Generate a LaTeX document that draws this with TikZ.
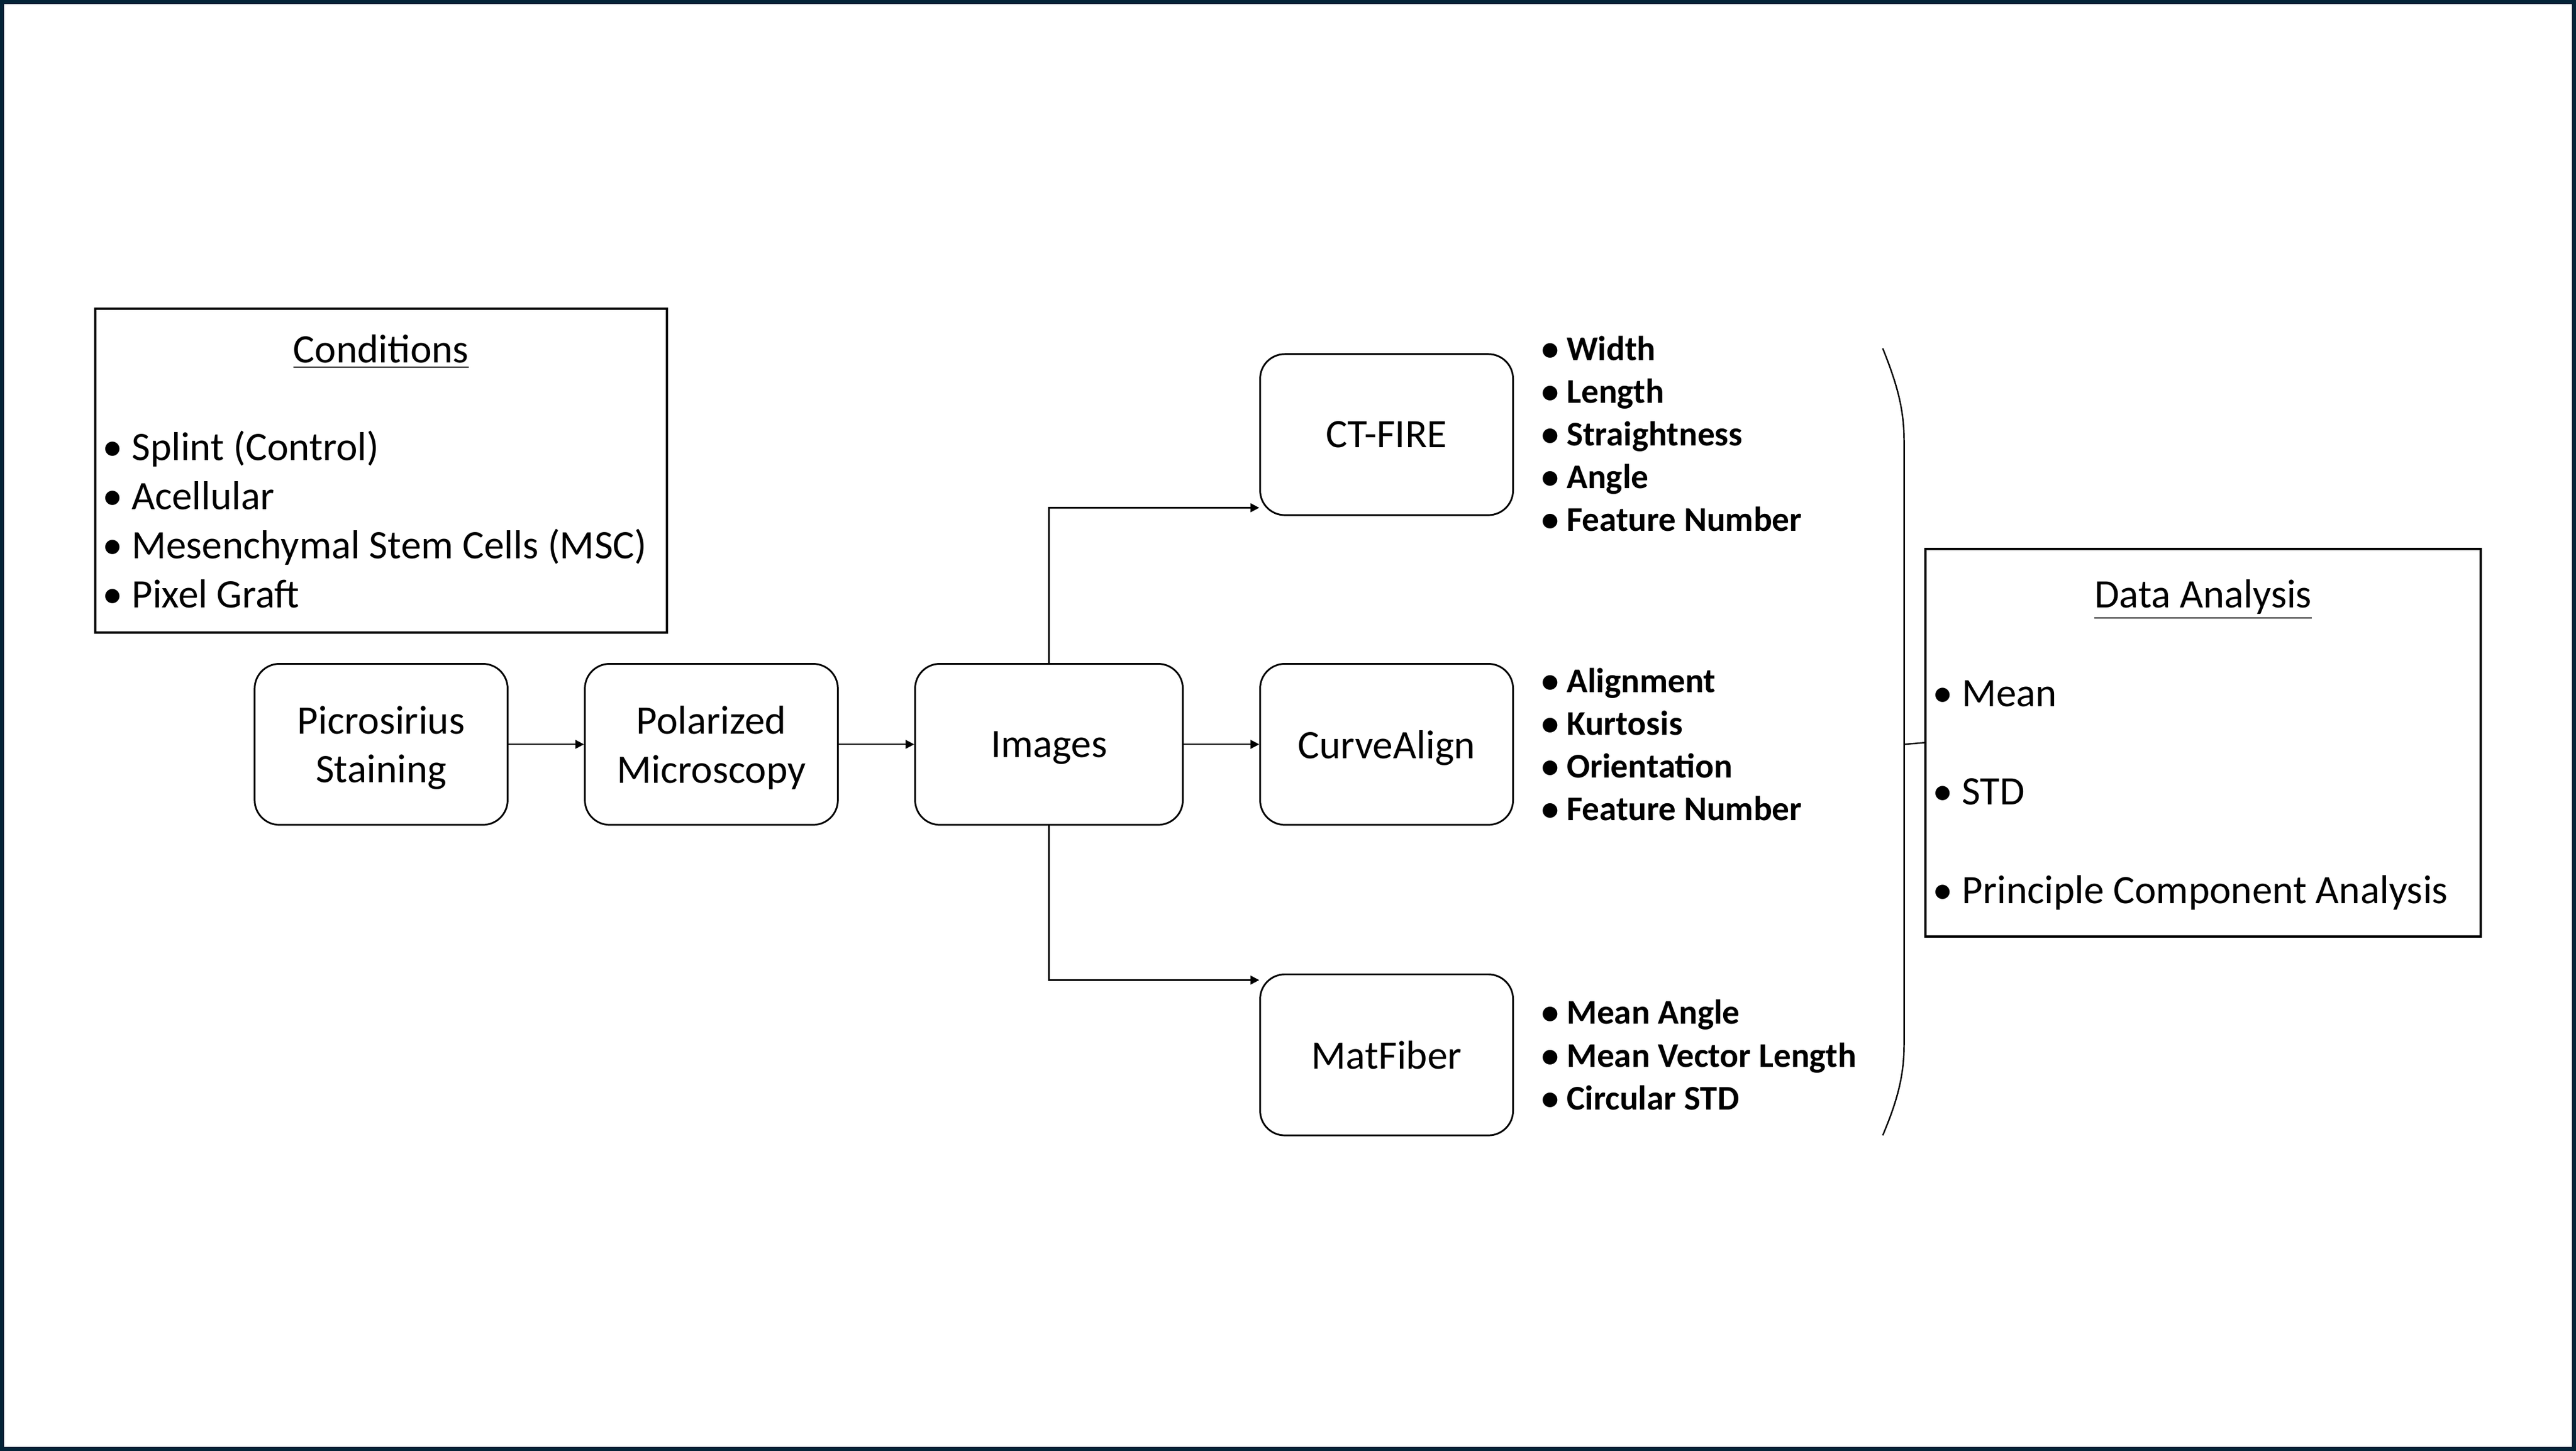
\documentclass[tikz,border=0pt]{standalone}
\usepackage{fontspec}
\setmainfont{Carlito}
\usetikzlibrary{arrows.meta}
\definecolor{slidenavy}{HTML}{032337}
\begin{document}
\begin{tikzpicture}[x=0.02cm, y=-0.02cm, font=\fontsize{14}{17}\selectfont,
	stage/.style={draw, line width=0.6pt, rounded corners=0.3cm, align=center, text depth=0pt, minimum width=3.08cm, minimum height=1.96cm},
	panel/.style={draw, line width=0.8pt, minimum width=6.76cm, minimum height=4.72cm},
	items/.style={align=left, anchor=west, inner sep=0pt},
	metrics/.style={items, font=\bfseries\fontsize{12}{14.8}\selectfont},
	conn/.style={-{Triangle[length=3pt, width=3pt]}, line width=0.5pt}]
	\useasboundingbox (0, 0) rectangle (1568, 883);
	\draw[slidenavy, line width=0.05cm] (1.25, 1.25) rectangle (1566.75, 881.75);

	\node[panel, minimum width=6.96cm, minimum height=3.94cm] (cond) at (232, 286.5) {};
	\node (condt) at (232, 214) {\underline{Conditions}};
	\node[items] (condl) at (62, 316) {• Splint (Control)\\• Acellular\\• Mesenchymal Stem Cells (MSC)\\• Pixel Graft};

	\node[stage] (pic) at (232, 453) {Picrosirius\\Staining};
	\node[stage] (pol) at (433, 453) {Polarized\\Microscopy};
	\node[stage, minimum width=3.26cm] (img) at (638.5, 453) {Images};
	\node[stage] (ctf) at (844, 264.5) {CT-FIRE};
	\node[stage] (ca) at (844, 453) {CurveAlign};
	\node[stage] (mf) at (844, 642) {MatFiber};

	\node[metrics] (ctfl) at (938, 264) {• Width\\• Length\\• Straightness\\• Angle\\• Feature Number};
	\node[metrics] (cal) at (938, 453) {• Alignment\\• Kurtosis\\• Orientation\\• Feature Number};
	\node[metrics] (mfl) at (938, 642) {• Mean Angle\\• Mean Vector Length\\• Circular STD};

	\node[panel] (da) at (1341, 452) {};
	\node (dat) at (1341, 365) {\underline{Data Analysis}};
	\node[items, font=\fontsize{14}{34.2}\selectfont] (dal) at (1176, 484) {• Mean\\• STD\\• Principle Component Analysis};

	\coordinate (brtop) at (1146, 212);
	\coordinate (brbot) at (1146, 691);
	\coordinate (brmid) at (1159, 453);
	\draw[line width=0.5pt] (brtop) .. controls (1154, 232) and (1159, 248) .. (1159, 268) -- (1159, 636) .. controls (1159, 656) and (1154, 672) .. (brbot);
	\draw[line width=0.5pt] (brmid) -- (da.west);

	\path (pic) edge[conn] (pol)
	(pol) edge[conn] (img)
	(img) edge[conn] (ca);
	\draw[conn] (img) |- ([yshift=0.1cm]ctf.south west);
	\draw[conn] (img) |- ([yshift=-0.08cm]mf.north west);
\end{tikzpicture}
\end{document}
